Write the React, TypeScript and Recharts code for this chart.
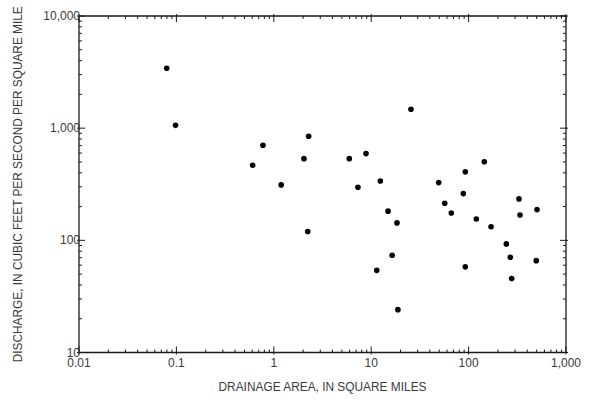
import React from 'react';
import { ScatterChart, Scatter, XAxis, YAxis, ReferenceLine } from 'recharts';

// drainage area (sq mi) and unit discharge (cfs per sq mi)
const AREA = [
  0.0795, 0.098, 0.607, 0.774, 1.19, 2.04, 2.28, 2.23, 5.96, 7.31, 8.85, 11.4,
  12.4, 14.9, 16.4, 18.4, 18.8, 25.6, 49.3, 56.9, 66.4, 88.3, 92.5, 92.5, 120,
  145, 170, 244, 268, 277, 329, 337, 495, 504,
];
const DISCHARGE = [
  3420, 1060, 467, 705, 312, 535, 847, 120, 535, 297, 593, 54,
  338, 182, 73.6, 143, 24.1, 1473, 327, 214, 175, 261, 408, 58, 155,
  502, 132, 92.9, 70.6, 45.6, 234, 168, 65.9, 188,
];

const X_DECADES = [0.01, 0.1, 1, 10, 100, 1000];
const X_LABELS = ['0.01', '0.1', '1', '10', '100', '1,000'];
const Y_DECADES = [10, 100, 1000, 10000];
const Y_LABELS = ['10', '100', '1,000', '10,000'];
const MINOR_STEPS = [2, 3, 4, 5, 6, 7, 8, 9];

const data = AREA.map((a, i) => ({ area: a, q: DISCHARGE[i] }));

const withMinors = (decades: number[]) => {
  const out: number[] = [];
  decades.forEach((d, i) => {
    out.push(d);
    if (i < decades.length - 1) MINOR_STEPS.forEach((s) => out.push(+(d * s).toPrecision(3)));
  });
  return out;
};
const X_TICKS = withMinors(X_DECADES);
const Y_TICKS = withMinors(Y_DECADES);

const W = 595;
const H = 400;
const PLOT = { left: 79, top: 16, right: 566, bottom: 352.5 };

const FONT = "'Liberation Sans', Arial, sans-serif";
const TEXT = '#3a3a3a';
const LINE = '#1a1a1a';

const labelFor = (v: number, decades: number[], labels: string[]) => {
  const i = decades.findIndex((d) => Math.abs(d - v) / d < 1e-6);
  return i >= 0 ? labels[i] : null;
};

// tick labels only; the tick marks are drawn by the reference-line shapes
const XTick = (props: any) => {
  const label = labelFor(props.payload.value, X_DECADES, X_LABELS);
  if (!label) return <g />;
  return (
    <text x={props.x} y={props.y + 10} textAnchor="middle" dominantBaseline="central" fontFamily={FONT} fontSize={12} fill={TEXT}>
      {label}
    </text>
  );
};

const YTick = (props: any) => {
  const label = labelFor(props.payload.value, Y_DECADES, Y_LABELS);
  if (!label) return <g />;
  return (
    <text x={props.x + 1} y={props.y} textAnchor="end" dominantBaseline="central" fontFamily={FONT} fontSize={12} fill={TEXT}>
      {label}
    </text>
  );
};

// short inward marks at both ends of a full-height / full-width reference line
const VMarks = (props: any) => {
  const { x1, y1, y2, major } = props;
  const top = Math.min(y1, y2);
  const bot = Math.max(y1, y2);
  const inner = major ? 6 : 3;
  const outer = major ? 2 : 0;
  return (
    <g>
      <line x1={x1} y1={bot + outer} x2={x1} y2={bot - inner} stroke={LINE} strokeWidth={1} />
      <line x1={x1} y1={top - outer} x2={x1} y2={top + inner} stroke={LINE} strokeWidth={1} />
    </g>
  );
};

const HMarks = (props: any) => {
  const { x1, x2, y1, major } = props;
  const l = Math.min(x1, x2);
  const r = Math.max(x1, x2);
  const inner = major ? 6 : 3;
  const outer = major ? 2 : 0;
  return (
    <g>
      <line x1={l - outer} y1={y1} x2={l + inner} y2={y1} stroke={LINE} strokeWidth={1} />
      <line x1={r + outer} y1={y1} x2={r - inner} y2={y1} stroke={LINE} strokeWidth={1} />
    </g>
  );
};

const XTitle = (props: any) => {
  const { x, y, width } = props.viewBox;
  return (
    <text x={x + width / 2} y={y + 34.5} textAnchor="middle" dominantBaseline="central" fontFamily={FONT} fontSize={12.5} fill={TEXT} textLength={208} lengthAdjust="spacingAndGlyphs">
      DRAINAGE AREA, IN SQUARE MILES
    </text>
  );
};

const YTitle = (props: any) => {
  const { x, y, height } = props.viewBox;
  const cx = x + 18;
  const cy = y + height / 2;
  return (
    <text x={cx} y={cy} transform={`rotate(-90, ${cx}, ${cy})`} textAnchor="middle" dominantBaseline="central" fontFamily={FONT} fontSize={12.5} fill={TEXT} textLength={356} lengthAdjust="spacingAndGlyphs">
      DISCHARGE, IN CUBIC FEET PER SECOND PER SQUARE MILE
    </text>
  );
};

const Dot = (props: any) => <circle cx={props.cx} cy={props.cy} r={2.8} fill="#000" />;

const axisLine = { stroke: LINE, strokeWidth: 1.3 };

export default function App() {
  return (
    <div style={{ position: 'absolute', left: 0, top: 0, background: '#fff' }}>
      <ScatterChart
        width={W}
        height={H}
        margin={{ top: PLOT.top - 10, right: W - PLOT.right - 10, bottom: H - PLOT.bottom - 30, left: 0 }}
      >
        <XAxis
          dataKey="area"
          type="number"
          scale="log"
          domain={[0.01, 1000]}
          allowDataOverflow
          ticks={X_TICKS}
          interval={0}
          tickSize={0}
          tickMargin={0}
          tickLine={false}
          tick={<XTick />}
          axisLine={axisLine}
          height={30}
          label={<XTitle />}
        />
        <XAxis xAxisId="top" orientation="top" type="number" domain={[0, 1]} tick={false} tickLine={false} axisLine={axisLine} height={10} />
        <YAxis
          dataKey="q"
          type="number"
          scale="log"
          domain={[10, 10000]}
          allowDataOverflow
          ticks={Y_TICKS}
          interval={0}
          tickSize={0}
          tickMargin={0}
          tickLine={false}
          tick={<YTick />}
          axisLine={axisLine}
          width={PLOT.left}
          label={<YTitle />}
        />
        <YAxis yAxisId="right" orientation="right" type="number" domain={[0, 1]} tick={false} tickLine={false} axisLine={axisLine} width={10} />
        {X_TICKS.map((v) => (
          <ReferenceLine key={`vx${v}`} x={v} ifOverflow="visible" shape={<VMarks major={X_DECADES.includes(v)} />} />
        ))}
        {Y_TICKS.map((v) => (
          <ReferenceLine key={`hy${v}`} y={v} ifOverflow="visible" shape={<HMarks major={Y_DECADES.includes(v)} />} />
        ))}
        <Scatter data={data} shape={<Dot />} isAnimationActive={false} />
      </ScatterChart>
    </div>
  );
}
